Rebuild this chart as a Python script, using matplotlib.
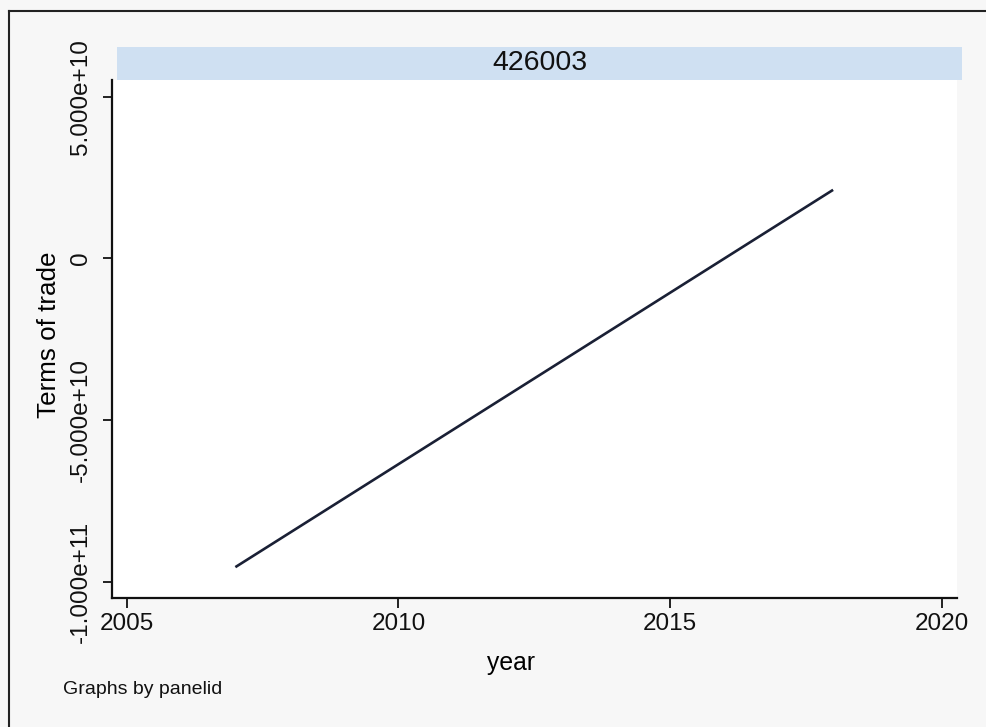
import matplotlib.pyplot as plt
from matplotlib.lines import Line2D

# data
years = [2007, 2018]
terms_of_trade = [-9.54e10, 2.12e10]
panel_id = "426003"
y_ticks = [-1.0e11, -5.0e10, 0, 5.0e10]
y_tick_labels = ["-1.000e+11", "-5.000e+10", "0", "5.000e+10"]
x_ticks = [2005, 2010, 2015, 2020]

plt.rcParams["font.family"] = ["Liberation Sans", "DejaVu Sans"]

W, H = 986, 727
fig = plt.figure(figsize=(W / 100, H / 100), dpi=100)
fig.patch.set_facecolor("#f7f7f7")


def fx(px):
    return px / W


def fy(py):
    return 1 - py / H


# plot region
ax = fig.add_axes([fx(112), fy(598), fx(957) - fx(112), fy(80) - fy(598)])
ax.set_facecolor("white")
ax.plot(years, terms_of_trade, color="#1a2035", lw=1.9, solid_capstyle="butt")

ax.set_xlim(2004.73, 2020.28)
ax.set_ylim(-1.0494e11, 5.515e10)

ax.set_xticks(x_ticks)
ax.set_xticklabels([str(x) for x in x_ticks], fontsize=17.5)
ax.set_yticks(y_ticks)
ax.set_yticklabels(y_tick_labels, fontsize=17.5, rotation=90, va="center")

ax.tick_params(axis="x", length=7, width=1.3, pad=4, colors="#111111")
ax.tick_params(axis="y", length=6.5, width=1.3, pad=8, colors="#111111")

for side in ["top", "right"]:
    ax.spines[side].set_visible(False)
for side in ["left", "bottom"]:
    ax.spines[side].set_linewidth(1.6)
    ax.spines[side].set_color("#111111")

ax.set_xlabel("year", fontsize=17.8)
ax.xaxis.set_label_coords((511 - 112) / 845, (598 - 663) / 518)
ax.xaxis.label.set_verticalalignment("center")

ax.set_ylabel("Terms of trade", fontsize=18.7)
ax.yaxis.set_label_coords((49 - 112) / 845, (598 - 335) / 518)
ax.yaxis.label.set_verticalalignment("center")

# panel strip on top
strip = fig.add_axes([fx(117), fy(80), fx(962) - fx(117), fy(47) - fy(80)])
strip.set_facecolor("#cfe0f2")
strip.set_xticks([])
strip.set_yticks([])
for s in strip.spines.values():
    s.set_visible(False)
strip.text(0.5, 0.5, panel_id, ha="center", va="center", fontsize=20.5,
           transform=strip.transAxes, color="#111111")

fig.text(fx(63), fy(690), "Graphs by panelid", fontsize=14, ha="left",
         va="center", color="#111111")

# outer frame of the graph
fig.add_artist(Line2D([fx(9), fx(9)], [0, fy(11)], color="#222222", lw=1.5))
fig.add_artist(Line2D([fx(9), 1], [fy(11), fy(11)], color="#222222", lw=1.5))

fig.savefig("out.png", dpi=100, facecolor=fig.get_facecolor())
